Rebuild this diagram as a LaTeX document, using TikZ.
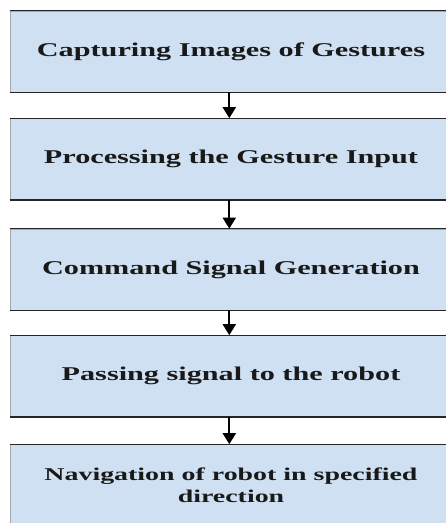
\documentclass[tikz,border=0pt]{standalone}
\usepackage{fontspec}
\setmainfont{Liberation Serif}[FakeStretch=1.55]
\usetikzlibrary{arrows.meta}
\definecolor{boxfill}{RGB}{206,224,242}
\definecolor{txt}{RGB}{25,25,25}
\tikzset{
  stepbox/.style={rectangle, fill=boxfill, draw=gray!70, line width=0.6pt,
    minimum width=442pt, minimum height=81pt, inner sep=0pt,
    font=\bfseries\fontsize{19.5}{21.5}\selectfont, text=txt, align=center},
  smalltext/.style={font=\bfseries\fontsize{18}{21.5}\selectfont},
  edge/.style={draw=black!85, line width=1.4pt},
  flow/.style={draw=black, line width=2pt, -{Triangle[width=13pt,length=11pt]}}
}
\begin{document}
\begin{tikzpicture}[x=1pt,y=-1pt]
\useasboundingbox (0,0) rectangle (446,523);
\node[stepbox] (b1) at (231,51.5) {Capturing Images of Gestures};
\node[stepbox] (b2) at (231,159) {Processing the Gesture Input};
\node[stepbox] (b3) at (231,269.5) {Command Signal Generation};
\node[stepbox] (b4) at (231,376) {Passing signal to the robot};
\node[stepbox, smalltext] (b5) at (231,485) {Navigation of robot in specified\\direction};
\foreach \b in {b1,b2,b3,b4,b5}{
  \draw[edge] (\b.north west) -- (\b.north east);
  \draw[edge] (\b.south west) -- (\b.south east);
}
\draw[flow] ([xshift=-1.7pt]b1.south) -- ([xshift=-1.7pt]b2.north);
\draw[flow] ([xshift=-1.7pt]b2.south) -- ([xshift=-1.7pt]b3.north);
\draw[flow] ([xshift=-1.7pt]b3.south) -- ([xshift=-1.7pt]b4.north);
\draw[flow] ([xshift=-1.7pt]b4.south) -- ([xshift=-1.7pt]b5.north);
\end{tikzpicture}
\end{document}
